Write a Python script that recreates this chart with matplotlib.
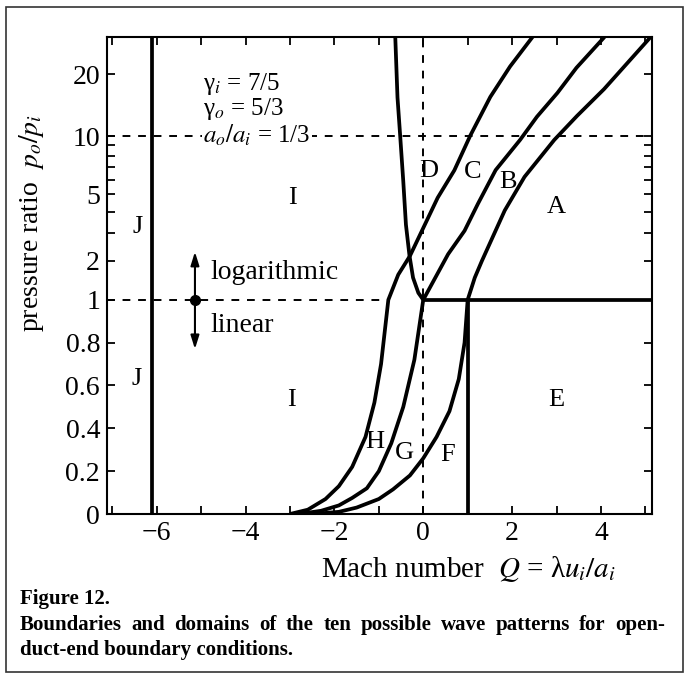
import numpy as np
import matplotlib
matplotlib.use("Agg")
import matplotlib.pyplot as plt
from matplotlib.patches import Rectangle

plt.rcParams["font.family"] = ["Liberation Serif", "DejaVu Serif"]
plt.rcParams["mathtext.fontset"] = "stix"

# ---- data (Q = Mach number, p = pressure ratio) ----
j_q = [-6.10, -6.10]
j_p = [0.0, 30.0]

# I/H boundary below p=1, continued as C/D boundary above p=1
ih_q = [-3.0, -2.6, -2.2, -1.9, -1.6, -1.3, -1.1, -0.95, -0.786]
ih_p = [0.0, 0.02, 0.07, 0.13, 0.22, 0.36, 0.52, 0.70, 1.0]
cd_q = [-0.786, -0.563, -0.30, 0.325, 0.70, 1.06, 1.51, 1.955, 2.46]
cd_p = [1.0, 1.60, 2.16, 4.8, 6.72, 10.1, 15.6, 21.8, 30.0]

# H/G boundary below p=1, B/C boundary above
hg_q = [-2.8, -2.3, -1.9, -1.6, -1.27, -1.0, -0.72, -0.45, -0.2, 0.0]
hg_p = [0.0, 0.015, 0.04, 0.075, 0.12, 0.2, 0.33, 0.5, 0.72, 1.0]
bc_q = [0.0, 0.56, 0.93, 1.23, 1.63, 2.18, 2.56, 3.02, 3.45, 4.08]
bc_p = [1.0, 2.22, 3.11, 4.44, 6.74, 9.6, 12.5, 16.3, 21.5, 30.0]

# G/F boundary below p=1, A/B boundary above
gf_q = [-2.5, -1.9, -1.5, -1.0, -0.68, -0.3, 0.0, 0.3, 0.59, 0.8, 0.93, 1.0]
gf_p = [0.0, 0.01, 0.03, 0.07, 0.115, 0.18, 0.26, 0.36, 0.48, 0.63, 0.8, 1.0]
ab_q = [1.0, 1.16, 1.32, 1.835, 2.28, 2.95, 3.46, 4.07, 5.12]
ab_p = [1.0, 1.52, 2.0, 4.08, 6.21, 9.6, 12.6, 17.0, 30.0]

# I/D boundary
d_q = [0.0, -0.11, -0.23, -0.31, -0.39, -0.45, -0.52, -0.58, -0.63]
d_p = [1.0, 1.15, 1.52, 2.17, 3.38, 5.9, 10.1, 15.5, 30.0]

# A/E and E/F boundaries
ae_q = [0.0, 5.15]
ae_p = [1.0, 1.0]
ef_q = [1.0, 1.0]
ef_p = [0.0, 1.0]

region_labels = ["J", "J", "I", "I", "D", "C", "B", "A", "E", "H", "G", "F"]
region_q = [-6.44, -6.46, -2.95, -2.97, 0.115, 1.11, 1.90, 3.0, 2.99, -1.09, -0.42, 0.55]
region_p = [3.26, 0.63, 4.79, 0.53, 6.68, 6.58, 5.86, 4.29, 0.53, 0.335, 0.287, 0.276]

# parameter block: gamma lines (baseline of last line) and sound-speed ratio
gamma_text = "γ$_i$ = 7/5\nγ$_o$ = 5/3"
gamma_p = 12.77
speed_text = "$a_o/a_i$ = 1/3"
speed_p = 9.28

xticks = [-6, -4, -2, 0, 2, 4]
yticks = [0, 0.2, 0.4, 0.6, 0.8, 1, 2, 5, 10, 20]
ytick_labels = ["0", "0.2", "0.4", "0.6", "0.8", "1", "2", "5", "10", "20"]
yminor = [3, 4, 6, 7, 8, 9]

caption_title = "Figure 12."
caption_lines = ["Boundaries and domains of the ten possible wave patterns for open-",
                 "duct-end boundary conditions."]

# ---- mixed scale: linear up to 1, log(1+p) above ----
S = 0.4477


def fwd(p):
    p = np.asarray(p, dtype=float)
    up = 1 + S * np.log((1 + np.maximum(p, 1)) / 2)
    return np.where(p <= 1, p, up)


def inv(y):
    y = np.asarray(y, dtype=float)
    up = 2 * np.exp((np.clip(y, 1, 20) - 1) / S) - 1
    return np.where(y <= 1, y, up)


def justify(fig, x0, x1, y, text, **kw):
    # spread words so the line fills x0..x1 (figure fractions)
    words = text.split()
    r = fig.canvas.get_renderer()
    ts = [fig.text(0, y, w, **kw) for w in words]
    widths = [t.get_window_extent(r).width for t in ts]
    W = fig.bbox.width
    gap = ((x1 - x0) * W - sum(widths)) / (len(words) - 1)
    x = x0 * W
    for t, w in zip(ts, widths):
        t.set_x(x / W)
        x += w + gap


fig = plt.figure(figsize=(6.91, 6.76), dpi=100)
ax = fig.add_axes([107 / 691, 1 - 514 / 676, 545 / 691, 477 / 676])
ax.set_yscale("function", functions=(fwd, inv))
ax.set_xlim(-7.12, 5.15)
ax.set_ylim(0, 30)

LW = 2.7
kw = dict(color="black", lw=LW, solid_capstyle="butt", solid_joinstyle="round")
ax.plot(j_q, j_p, **kw)
ax.plot(ih_q + cd_q[1:], ih_p + cd_p[1:], **kw)
ax.plot(hg_q + bc_q[1:], hg_p + bc_p[1:], **kw)
ax.plot(gf_q + ab_q[1:], gf_p + ab_p[1:], **kw)
ax.plot(d_q, d_p, **kw)
ax.plot(ae_q, ae_p, **kw)
ax.plot(ef_q, ef_p, **kw)

dkw = dict(color="black", lw=1.4, dashes=(4, 4))
ax.plot([-7.12, ih_q[-1]], [1, 1], **dkw)
ax.plot([-7.12, 5.15], [10, 10], **dkw)
ax.plot([0, 0], [0, 30], **dkw)

for lab, q, p in zip(region_labels, region_q, region_p):
    ax.text(q, p, lab, fontsize=19, ha="center", va="center")

ax.text(-4.95, gamma_p, gamma_text, fontsize=18, ha="left", va="baseline",
        linespacing=0.93)
ax.text(-4.95, speed_p, speed_text, fontsize=18, ha="left", va="baseline",
        bbox=dict(facecolor="white", edgecolor="none", pad=1.0))

# log / linear indicator
ax.annotate("", xy=(-5.14, 2.3), xytext=(-5.14, 0.77),
            arrowprops=dict(arrowstyle="<|-|>,head_length=0.8,head_width=0.25",
                            color="black", lw=1.5, shrinkA=0, shrinkB=0))
ax.plot([-5.14], [1], "o", color="black", ms=7)
ax.text(-4.79, 1.66, "logarithmic", fontsize=20, ha="left", va="center")
ax.text(-4.79, 0.88, "linear", fontsize=20, ha="left", va="center")

ax.set_xticks(xticks)
ax.set_xticklabels([f"{t}".replace("-", "\u2212") for t in xticks])
ax.set_xticks(np.arange(-7, 6), minor=True)
ax.set_yticks(yticks)
ax.set_yticklabels(ytick_labels)
ax.set_yticks(yminor, minor=True)
ax.yaxis.set_minor_formatter(matplotlib.ticker.NullFormatter())
ax.tick_params(which="both", direction="in", top=True, right=True,
               length=6, width=1.3, labelsize=20)
ax.tick_params(axis="x", pad=5)
ax.tick_params(axis="y", pad=5)
for sp in ax.spines.values():
    sp.set_linewidth(1.5)

ax.text(0.664, -0.132, "Mach number  $Q$ = λ$u_i/a_i$", transform=ax.transAxes,
        fontsize=21, ha="center", va="baseline")
fig.text(32 / 691, 1 - 223 / 676, "pressure ratio  $p_o/p_i$", rotation=90,
         fontsize=20, ha="center", va="center")

# caption
fig.text(20 / 691, 1 - 604 / 676, caption_title, fontsize=15, weight="bold",
         va="baseline")
justify(fig, 20 / 691, 665 / 691, 1 - 630 / 676, caption_lines[0],
        fontsize=15, weight="bold", va="baseline")
fig.text(20 / 691, 1 - 655 / 676, caption_lines[1], fontsize=15, weight="bold",
         va="baseline")

fig.patches.append(Rectangle((6 / 691, 1 - 672 / 676), 677 / 691, 665 / 676,
                             transform=fig.transFigure, fill=False, lw=1.2,
                             ec="#333333"))

fig.savefig("out.png", dpi=100)
